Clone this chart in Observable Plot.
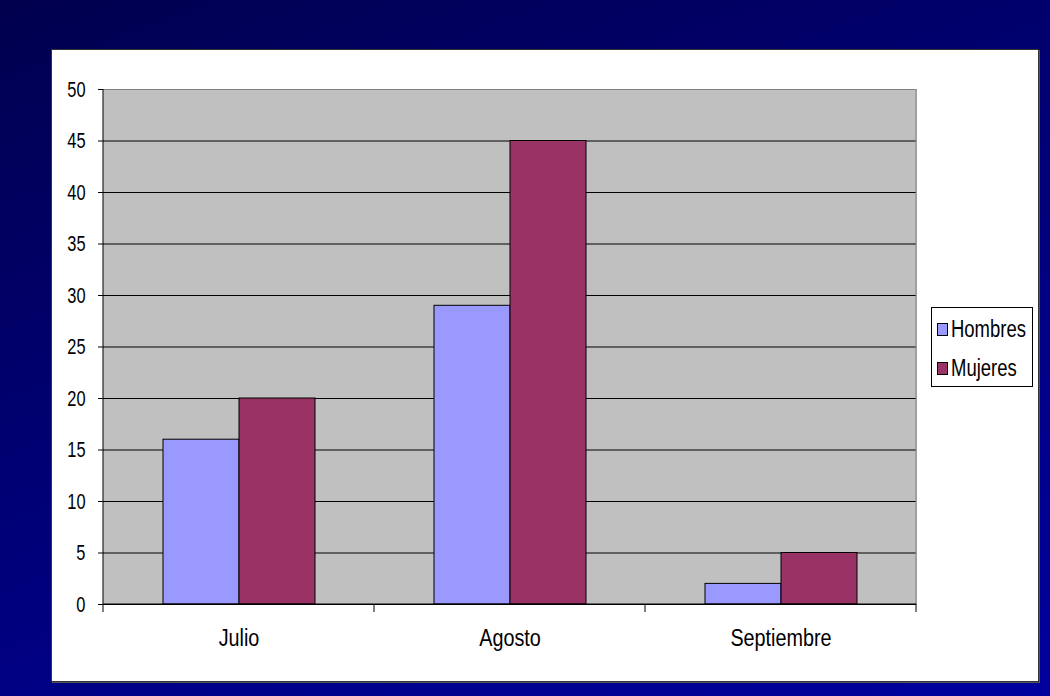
<!DOCTYPE html>
<html>
<head>
<meta charset="utf-8">
<script src="https://cdn.jsdelivr.net/npm/d3@7"></script>
<script src="https://cdn.jsdelivr.net/npm/@observablehq/plot@0.6"></script>
<style>
  html, body { margin: 0; padding: 0; }
  body {
    width: 1050px; height: 696px; overflow: hidden; position: relative;
    background: linear-gradient(160deg, #00004e 0%, #000070 40%, #00008c 75%, #00009e 100%);
    font-family: "Liberation Sans", Arial, sans-serif;
  }
  #panel {
    position: absolute; left: 52px; top: 50px; width: 986px; height: 631px;
    background: #fff; box-shadow: 0 0 0 1px #333, 1px 1px 0 1px #555;
  }
  #chart { position: absolute; left: 0; top: 0; }
  #legend {
    position: absolute; left: 879px; top: 257px; width: 100px; height: 78px;
    border: 1px solid #000; background: #fff; box-sizing: content-box;
  }
  .item { position: absolute; left: 5px; height: 24px; display: flex; align-items: center; color: #000; }
  .sw { width: 9px; height: 11px; border: 1px solid #000; margin-right: 3px; flex: none; }
  .lt { font-size: 22px; display: inline-block; transform: scale(0.84, 1.1); transform-origin: left center; white-space: nowrap; }
</style>
</head>
<body>
<div id="panel">
  <div id="chart"></div>
  <div id="legend"></div>
</div>
<script>
const categories = ["Julio", "Agosto", "Septiembre"];
const series = ["Hombres", "Mujeres"];
const hombres = [16, 29, 2];
const mujeres = [20, 45, 5];
const yTicks = [0, 5, 10, 15, 20, 25, 30, 35, 40, 45, 50];
const colors = ["#9999FF", "#993366"];

const data = categories.flatMap((c, i) => [
  { mes: c, serie: series[0], valor: hombres[i] },
  { mes: c, serie: series[1], valor: mujeres[i] }
]);

const chart = Plot.plot({
  width: 986,
  height: 631,
  marginLeft: 51,
  marginTop: 39,
  marginRight: 122,
  marginBottom: 77,
  style: {
    background: "transparent",
    fontFamily: "'Liberation Sans', Arial, sans-serif",
    fontSize: "20px",
    color: "#000"
  },
  fx: { domain: categories, padding: 0, label: null, tickSize: 0, tickPadding: 24, axis: "bottom" },
  x: { domain: series, paddingInner: 0, paddingOuter: 0.76, axis: null },
  y: { domain: [0, 50], ticks: yTicks, label: null, tickSize: 5, tickPadding: 13 },
  color: { domain: series, range: colors },
  marks: [
    Plot.frame({ fill: "#C0C0C0", stroke: "#C0C0C0" }),
    Plot.ruleY(yTicks.filter(d => d > 0 && d < 50), { stroke: "#000", strokeOpacity: 1 }),
    Plot.ruleY([50], { stroke: "#808080", strokeOpacity: 1 }),
    Plot.barY(data, { fx: "mes", x: "serie", y: "valor", fill: "serie", stroke: "#000", strokeWidth: 1 }),
    Plot.ruleY([0], { stroke: "#000", strokeOpacity: 1 })
  ]
});

document.getElementById("chart").appendChild(chart);

// axis lines and category-boundary ticks from the plot's own scales
const fx = chart.scale("fx");
const y = chart.scale("y");
const svg = d3.select(chart);
const y0 = y.apply(0), yTop = y.apply(50);
const bounds = categories.map(c => fx.apply(c));
const right = fx.apply(categories[categories.length - 1]) + fx.bandwidth;
bounds.push(right);
const g = svg.append("g");
g.append("line").attr("x1", right).attr("x2", right).attr("y1", yTop).attr("y2", y0).attr("stroke", "#808080");
bounds.forEach(b => {
  g.append("line").attr("x1", b).attr("x2", b).attr("y1", y0).attr("y2", y0 + 8).attr("stroke", "#000");
});
g.append("line").attr("x1", bounds[0]).attr("x2", bounds[0]).attr("y1", yTop).attr("y2", y0).attr("stroke", "#000");
g.append("line").attr("x1", bounds[0]).attr("x2", right).attr("y1", y0).attr("y2", y0).attr("stroke", "#000");

// narrow, slightly tall lettering like the original
svg.selectAll("text").each(function () {
  this.setAttribute("fill", "#000");
  const t = this.getAttribute("transform");
  if (!t) return;
  const isFx = categories.includes(this.textContent);
  if (isFx) this.setAttribute("font-size", "22");
  this.setAttribute("transform", t + (isFx ? " scale(0.9,1.1)" : " scale(0.82,1.1)"));
});

// legend
const legend = document.getElementById("legend");
series.forEach((s, i) => {
  const it = document.createElement("div");
  it.className = "item";
  it.style.top = (9 + i * 39) + "px";
  const sw = document.createElement("span");
  sw.className = "sw";
  sw.style.background = colors[i];
  const t = document.createElement("span");
  t.className = "lt";
  t.textContent = s;
  it.appendChild(sw);
  it.appendChild(t);
  legend.appendChild(it);
});
</script>
</body>
</html>
